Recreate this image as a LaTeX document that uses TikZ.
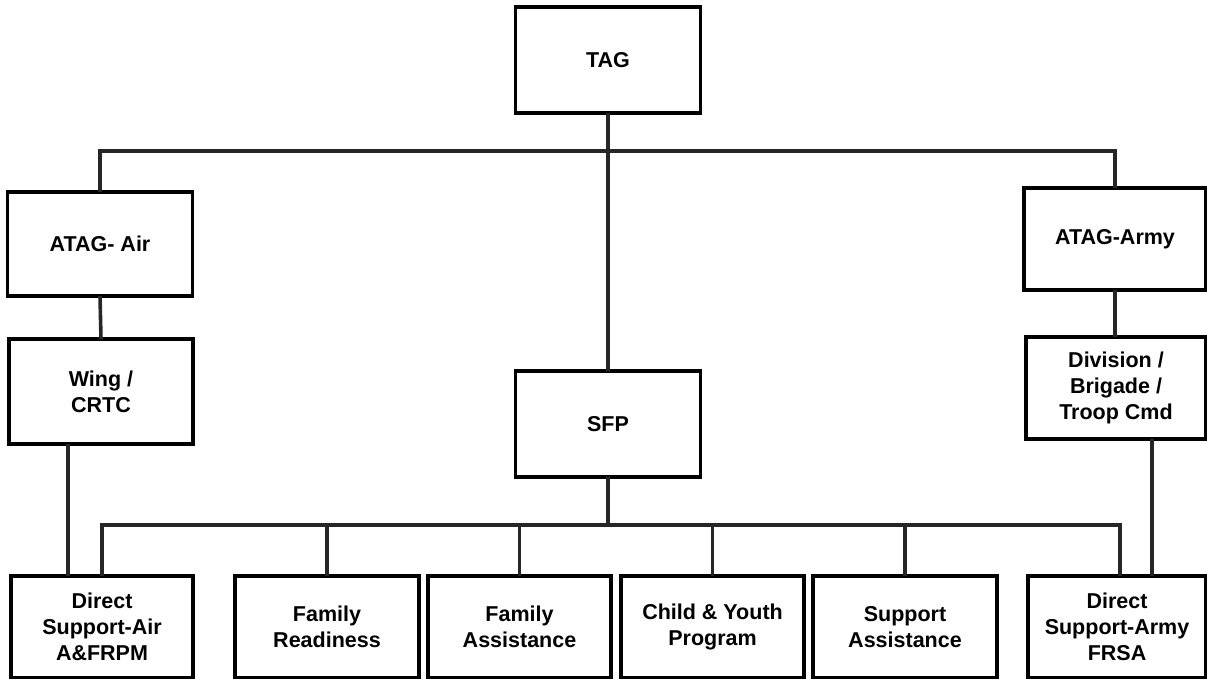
\documentclass[tikz,border=0pt]{standalone}
\usepackage{fontspec}
\setmainfont{Liberation Sans}
\begin{document}
\begin{tikzpicture}[x=1pt,y=-1pt,
  box/.style={draw=black, line width=3.4pt, fill=white, inner sep=0pt, outer sep=0pt,
    align=center, font=\fontsize{21.5}{26}\selectfont\bfseries},
  conn/.style={draw=black!85, line width=3.6pt}]
\useasboundingbox (0,0) rectangle (1207,679);
% bus coordinates
\coordinate (topbus) at (608,151);
\coordinate (botbus) at (608,525);
% boxes
\node[box, minimum width=185pt, minimum height=106pt] (tag) at (608,60) {TAG};
\node[box, minimum width=185pt, minimum height=104pt] (air) at (100,244) {ATAG- Air};
\node[box, minimum width=182pt, minimum height=102pt] (army) at (1115,239) {ATAG-Army};
\node[box, minimum width=184pt, minimum height=105pt] (wing) at (101,391.5) {Wing /\\CRTC};
\node[box, minimum width=180pt, minimum height=102pt] (div) at (1116,388) {Division /\\Brigade /\\Troop Cmd};
\node[box, minimum width=185pt, minimum height=106pt] (sfp) at (608,424) {SFP};
\node[box, minimum width=182pt, minimum height=102pt] (dsair) at (102,627) {Direct\\Support-Air\\A\&FRPM};
\node[box, minimum width=184pt, minimum height=102pt] (fr) at (327,627) {Family\\Readiness};
\node[box, minimum width=183pt, minimum height=102pt] (fa) at (519.5,627) {Family\\Assistance};
\node[box, minimum width=183pt, minimum height=102pt] (cy) at (712.5,627) {Child \& Youth\\Program};
\node[box, minimum width=184pt, minimum height=102pt] (sa) at (905,627) {Support\\Assistance};
\node[box, minimum width=178pt, minimum height=102pt] (dsarmy) at (1117,627) {Direct\\Support-Army\\FRSA};
% connectors
\draw[conn] (tag.south) -- (sfp.north);
\draw[conn] (air.north) |- (topbus) -| (army.north);
\draw[conn] (air.south) -- (wing.north);
\draw[conn] (army.south) -- (army.south |- div.north);
\draw[conn] ([xshift=-33pt]wing.south) -- ([xshift=-33pt]wing.south |- dsair.north);
\draw[conn] ([xshift=36pt]div.south) -- ([xshift=36pt]div.south |- dsarmy.north);
\draw[conn] (sfp.south) -- (botbus);
\draw[conn] (dsair.north) |- (botbus) -| ([xshift=3pt]dsarmy.north);
\draw[conn] (fr.north) -- (fr.north |- botbus);
\draw[conn] (fa.north) -- (fa.north |- botbus);
\draw[conn] (cy.north) -- (cy.north |- botbus);
\draw[conn] (sa.north) -- (sa.north |- botbus);
\end{tikzpicture}
\end{document}
